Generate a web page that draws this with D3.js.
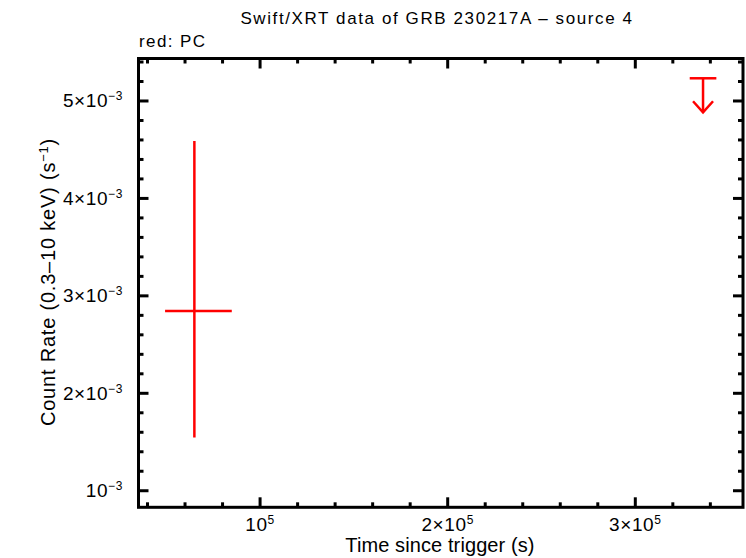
<!DOCTYPE html>
<html><head><meta charset="utf-8">
<script src="https://cdn.jsdelivr.net/npm/d3@7"></script>
<style>body{margin:0;background:#fff}svg{display:block}text{font-family:"Liberation Sans",Arial,sans-serif;fill:#000}</style>
</head><body><svg id="c" width="746" height="558"></svg>
<script>
const xDomain=[35200,357400];
const yDomain=[0.00083,0.005436];
const xMajor=[100000,200000,300000];
const xMajorLabels=[["10","5"],["2×10","5"],["3×10","5"]];
const yMajor=[0.001,0.002,0.003,0.004,0.005];
const yMajorLabels=[["10","−3"],["2×10","−3"],["3×10","−3"],["4×10","−3"],["5×10","−3"]];
const pcPoints=[{t:64980,tlo:49360,thi:84920,r:0.002844,rlo:0.001547,rhi:0.004589}];
const upperLimits=[{t:336100,tlo:329000,thi:343200,r:0.005233}];

const svg=d3.select("#c");
const L=138.5,R=743,T=58.5,B=507.3;
const x=d3.scaleLinear().domain(xDomain).range([L,R]);
const y=d3.scaleLinear().domain(yDomain).range([B,T]);

const xMinor=d3.range(40000,357400,20000).filter(v=>v%100000!==0);
const yMinor=d3.range(0.0008,0.00545,0.0002).map(v=>+v.toFixed(5)).filter(v=>v>=yDomain[0]&&v<=yDomain[1]&&Math.abs(v*1000-Math.round(v*1000))>1e-6);

const g=svg.append("g").attr("stroke","#000").attr("stroke-width",3);
function xt(v,len){g.append("line").attr("x1",x(v)).attr("x2",x(v)).attr("y1",B).attr("y2",B-len);
  g.append("line").attr("x1",x(v)).attr("x2",x(v)).attr("y1",T).attr("y2",T+len);}
function yt(v,len){g.append("line").attr("y1",y(v)).attr("y2",y(v)).attr("x1",L).attr("x2",L+len);
  g.append("line").attr("y1",y(v)).attr("y2",y(v)).attr("x1",R).attr("x2",R-len);}
xMajor.forEach(v=>xt(v,10));xMinor.forEach(v=>xt(v,5));
yMajor.forEach(v=>yt(v,10));yMinor.forEach(v=>yt(v,5));
svg.append("rect").attr("x",L).attr("y",T).attr("width",R-L).attr("height",B-T).attr("fill","none").attr("stroke","#000").attr("stroke-width",3);

xMajor.forEach((v,i)=>{
  const t=svg.append("text").attr("x",x(v)).attr("y",531).attr("text-anchor","middle").attr("font-size",19).attr("letter-spacing",0.6);
  t.append("tspan").text(xMajorLabels[i][0]);
  t.append("tspan").attr("dy",-7).attr("font-size",12).text(xMajorLabels[i][1]);
});
yMajor.forEach((v,i)=>{
  const t=svg.append("text").attr("x",123).attr("y",y(v)+6.5).attr("text-anchor","end").attr("font-size",19).attr("letter-spacing",0.6);
  t.append("tspan").text(yMajorLabels[i][0]);
  t.append("tspan").attr("dy",-7).attr("font-size",12).text(yMajorLabels[i][1]);
});

const red="#ff0000";
const d=svg.append("g").attr("stroke",red).attr("stroke-width",2.5).attr("fill","none");
pcPoints.forEach(p=>{
  d.append("line").attr("x1",x(p.tlo)).attr("x2",x(p.thi)).attr("y1",y(p.r)).attr("y2",y(p.r));
  d.append("line").attr("x1",x(p.t)).attr("x2",x(p.t)).attr("y1",y(p.rlo)).attr("y2",y(p.rhi));
});
upperLimits.forEach(p=>{
  const cx=x(p.t),cy=y(p.r);
  d.append("line").attr("x1",x(p.tlo)).attr("x2",x(p.thi)).attr("y1",cy).attr("y2",cy);
  d.append("line").attr("x1",cx).attr("x2",cx).attr("y1",cy).attr("y2",cy+34);
  d.append("path").attr("d",`M${cx-10},${cy+23}L${cx},${cy+34}L${cx+10},${cy+23}`);
});

svg.append("text").attr("x",437).attr("y",24).attr("text-anchor","middle").attr("font-size",17).attr("letter-spacing",1.6).text("Swift/XRT data of GRB 230217A – source 4");
svg.append("text").attr("x",139).attr("y",47).attr("font-size",17).attr("letter-spacing",1.4).text("red: PC");
svg.append("text").attr("x",440).attr("y",552).attr("text-anchor","middle").attr("font-size",20).attr("letter-spacing",0.1).text("Time since trigger (s)");
const yl=svg.append("text").attr("transform","translate(55,282) rotate(-90)").attr("text-anchor","middle").attr("font-size",20).attr("letter-spacing",0.8);
yl.append("tspan").text("Count Rate (0.3–10 keV) (s");
yl.append("tspan").attr("dy",-7).attr("font-size",13).text("−1");
yl.append("tspan").attr("dy",7).text(")");
</script></body></html>
